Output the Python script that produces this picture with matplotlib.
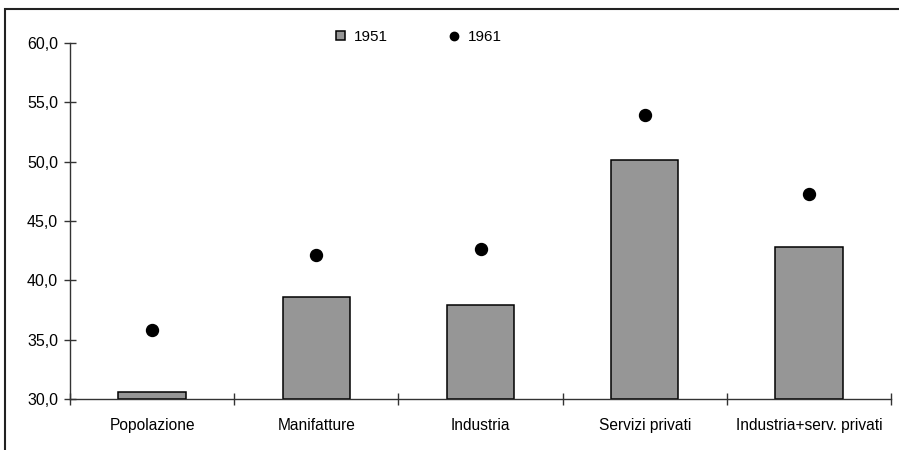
import matplotlib.pyplot as plt
from matplotlib.patches import Rectangle
from matplotlib.ticker import FixedLocator, FuncFormatter
import numpy as np

plt.rcParams['font.family'] = ['Liberation Sans', 'DejaVu Sans']

categories = ['Popolazione', 'Manifatture', 'Industria', 'Servizi privati', 'Industria+serv. privati']
v1951 = [30.6, 38.6, 37.9, 50.1, 42.8]
v1961 = [35.8, 42.1, 42.6, 53.9, 47.3]

fig = plt.figure(figsize=(8.99, 4.5), dpi=100)
# outer chart frame (right and bottom edges fall outside the image)
fig.patches.append(Rectangle((5 / 899, -0.1), 1.2, 1.1 - 9 / 450, transform=fig.transFigure,
                             fill=False, edgecolor='#222222', linewidth=1.5))

ax = fig.add_axes([70 / 899, 1 - 399 / 450, 821 / 899, 356 / 450])
x = np.arange(len(categories))
bars = ax.bar(x, np.array(v1951) - 30, bottom=30, width=0.41, color='#969696',
              edgecolor='black', linewidth=1.1, label='1951', zorder=2)
dots, = ax.plot(x, v1961, 'o', color='black', markersize=8.6, linestyle='none', label='1961', zorder=3)

ax.set_xlim(-0.5, len(categories) - 0.5)
ax.set_ylim(30, 60)
for s in ['top', 'right']:
    ax.spines[s].set_visible(False)
for s in ['left', 'bottom']:
    ax.spines[s].set_color('#333333')
    ax.spines[s].set_linewidth(1.0)

ax.yaxis.set_major_locator(FixedLocator(np.arange(30, 61, 5)))
ax.yaxis.set_major_formatter(FuncFormatter(lambda v, p: f'{v:.1f}'.replace('.', ',')))
ax.xaxis.set_major_locator(FixedLocator(np.arange(-0.5, len(categories), 1.0)))
ax.xaxis.set_major_formatter(FuncFormatter(lambda v, p: ''))
ax.xaxis.set_minor_locator(FixedLocator(x))
ax.set_xticklabels(categories, minor=True)
ax.tick_params(axis='x', which='minor', length=0, pad=14, labelsize=11.2)
ax.tick_params(axis='x', which='major', direction='inout', length=9, width=1, color='#333333')
ax.tick_params(axis='y', direction='inout', length=9, width=1, color='#333333', labelsize=11.5, pad=4)

ax.legend([bars, dots], ['1951', '1961'], loc='center left',
          bbox_to_anchor=(336 / 899, 1 - 37 / 450), bbox_transform=fig.transFigure,
          ncol=2, frameon=False, fontsize=11, handlelength=0.6, handleheight=0.6,
          handletextpad=0.6, columnspacing=4.0, markerscale=0.7,
          borderpad=0, borderaxespad=0)

fig.savefig('out.png', dpi=100)
